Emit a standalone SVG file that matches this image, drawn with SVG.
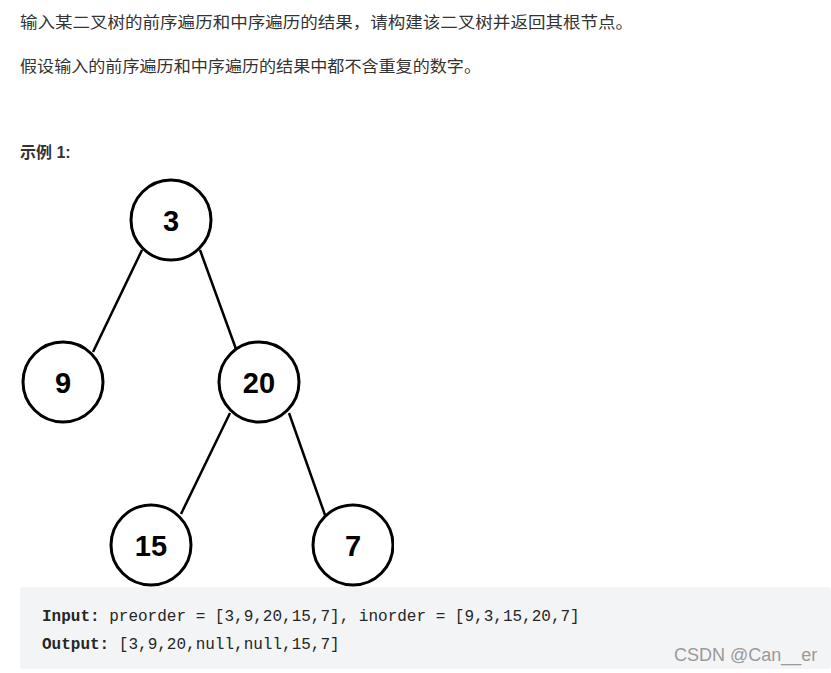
<svg xmlns="http://www.w3.org/2000/svg" width="831" height="673" viewBox="0 0 831 673">
<style>
.cn{font-family:"Liberation Sans","Noto Sans CJK SC",sans-serif;font-size:16px;fill:#333}
.nd circle{fill:#fff;stroke:#000;stroke-width:3}
.nd text{font-family:"Liberation Sans",Arial,sans-serif;font-weight:bold;font-size:29px;fill:#000;text-anchor:middle}
.edge line{stroke:#000;stroke-width:2.5}
.mono{font-family:"Liberation Mono","DejaVu Sans Mono",monospace;font-size:16px;fill:#262626}
</style>
<rect width="831" height="673" fill="#fff"/>
<text class="cn" x="20" y="28" textLength="613" lengthAdjust="spacingAndGlyphs">输入某二叉树的前序遍历和中序遍历的结果，请构建该二叉树并返回其根节点。</text>
<text class="cn" x="20" y="72" textLength="461" lengthAdjust="spacingAndGlyphs">假设输入的前序遍历和中序遍历的结果中都不含重复的数字。</text>
<text class="cn" x="20" y="158" style="font-weight:bold;font-size:16px">示例 1:</text>
<g class="edge" id="connectors">
<line x1="142" y1="250" x2="93" y2="352"/>
<line x1="200" y1="250" x2="236" y2="349"/>
<line x1="230" y1="413" x2="181" y2="514"/>
<line x1="289" y1="413" x2="325" y2="515"/>
</g>
<g class="nd" id="node-3"><circle cx="171" cy="220" r="40"/><text x="171" y="231">3</text></g>
<g class="nd" id="node-9"><circle cx="63" cy="382" r="40"/><text x="63" y="393">9</text></g>
<g class="nd" id="node-20"><circle cx="259" cy="382" r="40"/><text x="259" y="393">20</text></g>
<g class="nd" id="node-15"><circle cx="151" cy="545" r="40"/><text x="151" y="556">15</text></g>
<g class="nd" id="node-7"><circle cx="353" cy="545" r="40"/><text x="353" y="556">7</text></g>
<rect x="394" y="500" width="40" height="90" fill="#fff"/>
<rect x="20" y="587" width="811" height="82" rx="3" fill="#f3f4f5"/>
<text class="mono" x="42" y="621"><tspan font-weight="bold">Input:</tspan> preorder = [3,9,20,15,7], inorder = [9,3,15,20,7]</text>
<text class="mono" x="42" y="649"><tspan font-weight="bold">Output:</tspan> [3,9,20,null,null,15,7]</text>
<text x="674" y="661" style="font-family:'Liberation Sans',sans-serif;font-size:18px;fill:#9a9a9a">CSDN @Can__er</text>
</svg>
